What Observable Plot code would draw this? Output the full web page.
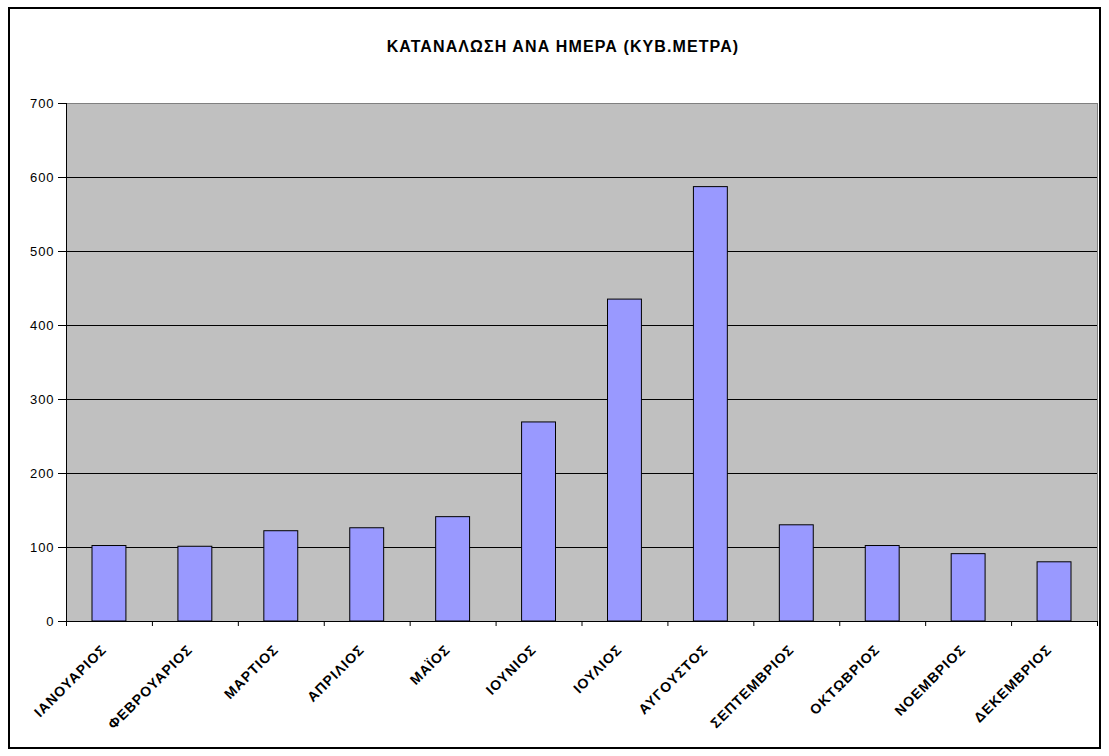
<!DOCTYPE html>
<html>
<head>
<meta charset="utf-8">
<script src="https://cdn.jsdelivr.net/npm/d3@7"></script>
<script src="https://cdn.jsdelivr.net/npm/@observablehq/plot@0.6"></script>
<style>
  html, body { margin: 0; padding: 0; background: #fff; }
  #wrap { position: relative; width: 1109px; height: 756px; font-family: "Liberation Sans", Arial, sans-serif; }
  #border { position: absolute; left: 8px; top: 7px; width: 1093px; height: 742px; border: 2px solid #000; box-sizing: border-box; }
  #title { position: absolute; left: 8px; width: 1110px; top: 38px; text-align: center; font-weight: bold; font-size: 16px; letter-spacing: 1.1px; color: #000; }
  #chart { position: absolute; left: 0; top: 0; }
  #chart svg text { letter-spacing: 0.9px; }
</style>
</head>
<body>
<div id="wrap">
  <div id="border"></div>
  <div id="title">ΚΑΤΑΝΑΛΩΣΗ ΑΝΑ ΗΜΕΡΑ (ΚΥΒ.ΜΕΤΡΑ)</div>
  <div id="chart"></div>
</div>
<script>
const months = ["ΙΑΝΟΥΑΡΙΟΣ", "ΦΕΒΡΟΥΑΡΙΟΣ", "ΜΑΡΤΙΟΣ", "ΑΠΡΙΛΙΟΣ", "ΜΑΪΟΣ", "ΙΟΥΝΙΟΣ", "ΙΟΥΛΙΟΣ", "ΑΥΓΟΥΣΤΟΣ", "ΣΕΠΤΕΜΒΡΙΟΣ", "ΟΚΤΩΒΡΙΟΣ", "ΝΟΕΜΒΡΙΟΣ", "ΔΕΚΕΜΒΡΙΟΣ"];
const values = [102, 101, 122, 126, 141, 269, 435, 587, 130, 102, 91, 80];
const yTicks = [0, 100, 200, 300, 400, 500, 600, 700];

const data = months.map((m, i) => ({month: m, i, value: values[i]}));

const chart = Plot.plot({
  width: 1109,
  height: 756,
  marginLeft: 66,
  marginRight: 12,
  marginTop: 103,
  marginBottom: 135,
  style: {fontFamily: "Liberation Sans, Arial, sans-serif", fontSize: "13px", background: "transparent", color: "#000"},
  x: {type: "linear", domain: [0, 12]},
  y: {domain: [0, 700]},
  marks: [
    Plot.frame({fill: "#C0C0C0", stroke: "#808080"}),
    Plot.ruleY(yTicks.filter(t => t > 0 && t < 700), {stroke: "#000", strokeWidth: 1}),
    Plot.rectY(data, {x1: d => d.i, x2: d => d.i + 1, y1: 0, y2: "value", insetLeft: 26, insetRight: 26, fill: "#9999FF", stroke: "#000", strokeWidth: 1}),
    Plot.ruleX([0], {stroke: "#000"}),
    Plot.ruleY([0], {stroke: "#000"}),
    Plot.axisY({ticks: yTicks, tickSize: 8, tickPadding: 4, tickFormat: d => d, fontSize: 13, label: null}),
    Plot.axisX({ticks: d3.range(0, 13), tickSize: 5, tickFormat: () => "", label: null}),
    Plot.text(data, {x: d => d.i + 0.5, frameAnchor: "bottom", text: "month", rotate: -45, textAnchor: "end", dy: 29, dx: -2, fontWeight: "bold", fontSize: 14})
  ]
});
chart.querySelectorAll("g[aria-label='text'] text").forEach(t => t.style.letterSpacing = "1px");
document.getElementById("chart").appendChild(chart);
</script>
</body>
</html>
